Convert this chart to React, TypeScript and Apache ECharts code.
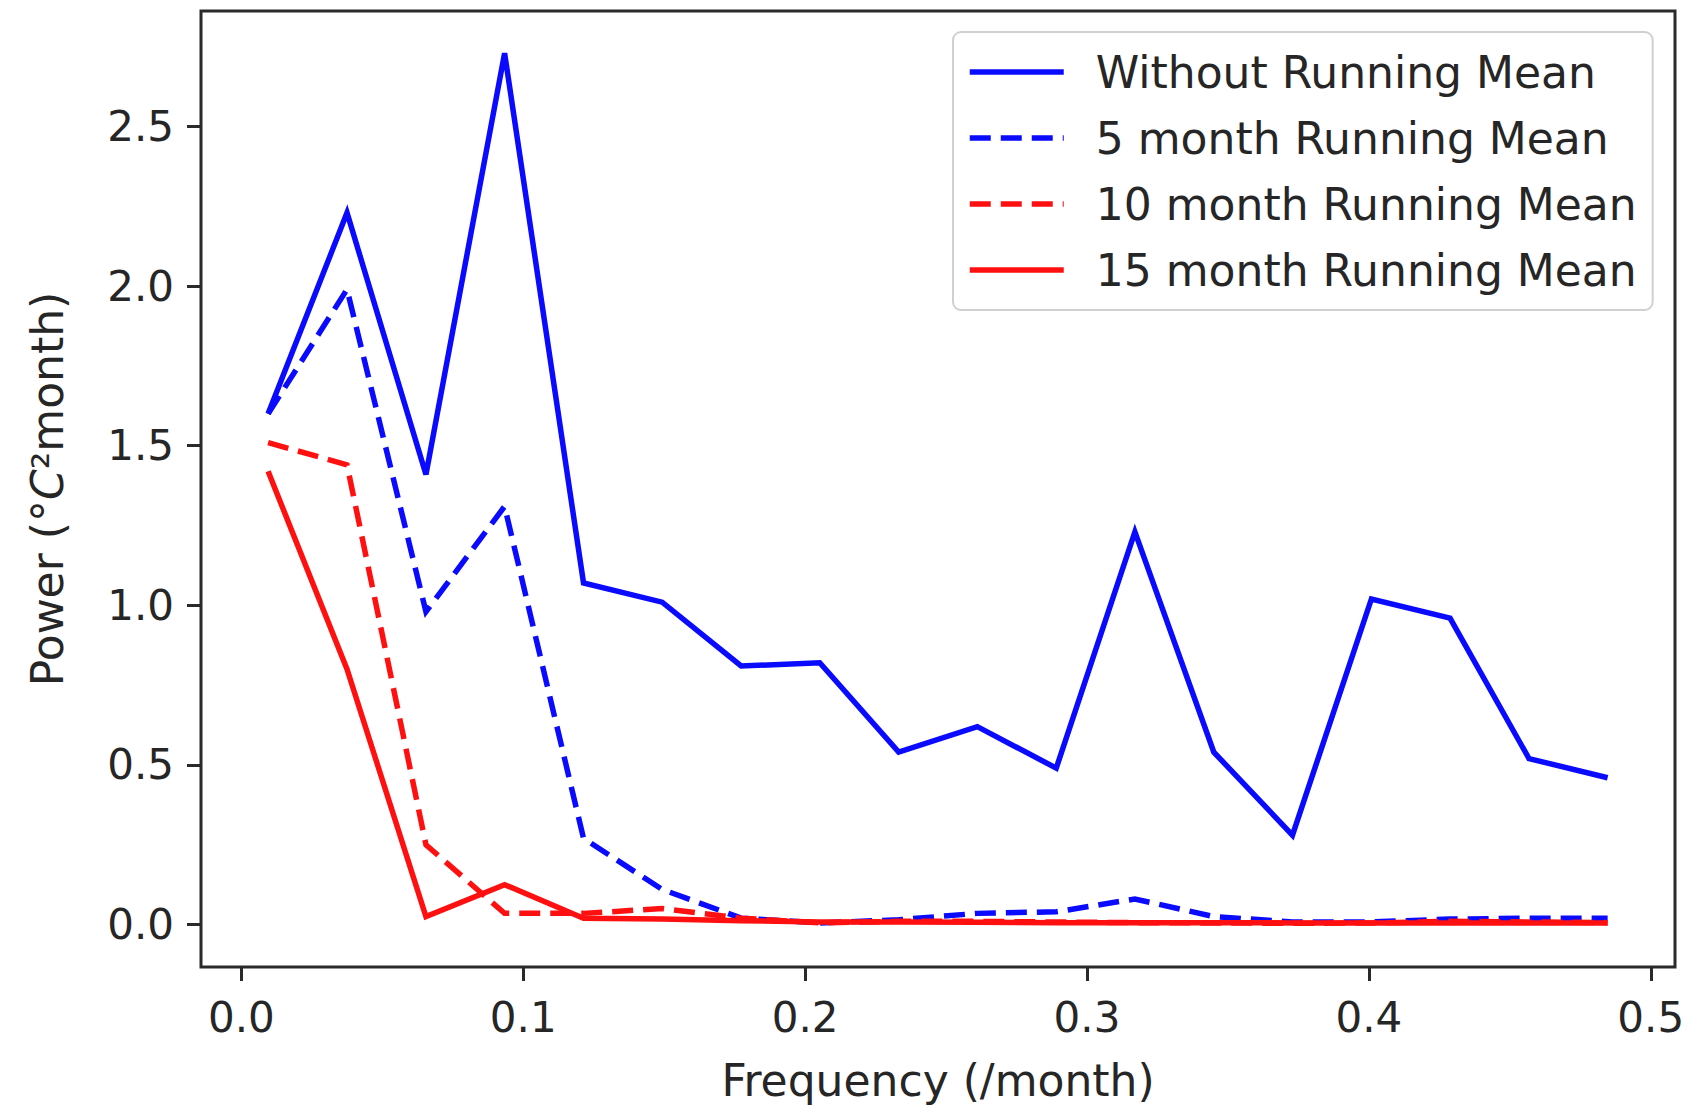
import React, { useEffect, useRef } from "react";
import * as echarts from "echarts";

const freq = [0.0095, 0.0375, 0.0655, 0.0934, 0.1214, 0.1493, 0.1773, 0.2052, 0.2332, 0.2611, 0.2891, 0.317, 0.345, 0.3729, 0.4009, 0.4288, 0.4568, 0.4847];
const withoutMean = [1.6, 2.23, 1.41, 2.73, 1.07, 1.01, 0.81, 0.82, 0.54, 0.62, 0.49, 1.23, 0.54, 0.28, 1.02, 0.96, 0.52, 0.46];
const mean5 = [1.6, 1.99, 0.98, 1.31, 0.27, 0.11, 0.02, 0.005, 0.015, 0.035, 0.04, 0.08, 0.025, 0.008, 0.008, 0.017, 0.02, 0.02];
const mean10 = [1.51, 1.44, 0.25, 0.035, 0.035, 0.05, 0.02, 0.005, 0.01, 0.01, 0.008, 0.006, 0.005, 0.004, 0.005, 0.01, 0.008, 0.006];
const mean15 = [1.42, 0.8, 0.025, 0.125, 0.02, 0.017, 0.012, 0.008, 0.008, 0.007, 0.006, 0.006, 0.006, 0.005, 0.005, 0.005, 0.005, 0.005];
const seriesNames = ["Without Running Mean", "5 month Running Mean", "10 month Running Mean", "15 month Running Mean"];
const xTicks = [0, 0.1, 0.2, 0.3, 0.4, 0.5];
const yTicks = [0, 0.5, 1, 1.5, 2, 2.5];

const FONT = "DejaVu Sans";
const TXT = "#262626";
const BLUE = "#0a0aff";
const RED = "#ff1010";
const LW = 5.5;

export default function App() {
  const ref = useRef<HTMLDivElement>(null);
  useEffect(() => {
    if (!ref.current) return;
    const chart = echarts.init(ref.current, null, { renderer: "svg" });
    const mk = (vals: number[]) => freq.map((f, i) => [f, vals[i]]);
    const series = [
      { name: seriesNames[0], data: mk(withoutMean), color: BLUE, type: "solid" as any },
      { name: seriesNames[1], data: mk(mean5), color: BLUE, type: [21, 10] as any },
      { name: seriesNames[2], data: mk(mean10), color: RED, type: [21, 10] as any },
      { name: seriesNames[3], data: mk(mean15), color: RED, type: "solid" as any },
    ].map((s) => ({
      name: s.name,
      type: "line",
      data: s.data,
      showSymbol: false,
      symbol: "none",
      color: s.color,
      lineStyle: { color: s.color, width: LW, type: s.type, join: "miter" },
    }));
    chart.setOption({
      animation: false,
      backgroundColor: "#ffffff",
      grid: {
        left: 201,
        right: 14,
        top: 11,
        bottom: 140,
        show: true,
        borderColor: "#2a2a2a",
        borderWidth: 3,
        backgroundColor: "transparent",
      },
      xAxis: {
        type: "value",
        min: -0.0143,
        max: 0.5086,
        name: "Frequency (/month)",
        nameLocation: "middle",
        nameGap: 91,
        nameTextStyle: { fontFamily: FONT, fontSize: 44, color: TXT },
        axisLine: { show: false, onZero: false },
        splitLine: { show: false },
        axisTick: { show: true, inside: false, length: 14, lineStyle: { color: "#2a2a2a", width: 3 }, customValues: xTicks },
        axisLabel: { fontFamily: FONT, fontSize: 42, color: TXT, margin: 29, customValues: xTicks, formatter: (v: number) => v.toFixed(1) },
      },
      yAxis: {
        type: "value",
        min: -0.133,
        max: 2.862,
        name: "{a|Power (°}{i|C}{a|²month)}",
        nameLocation: "middle",
        nameGap: 132,
        nameRotate: 90,
        nameTextStyle: {
          fontFamily: FONT,
          fontSize: 44,
          color: TXT,
          rich: {
            a: { fontFamily: FONT, fontSize: 44, color: TXT },
            i: { fontFamily: FONT, fontSize: 44, color: TXT, fontStyle: "italic" },
          },
        },
        axisLine: { show: false, onZero: false },
        splitLine: { show: false },
        axisTick: { show: true, inside: false, length: 14, lineStyle: { color: "#2a2a2a", width: 3 }, customValues: yTicks },
        axisLabel: { fontFamily: FONT, fontSize: 42, color: TXT, margin: 27, customValues: yTicks, formatter: (v: number) => v.toFixed(1) },
      },
      legend: {
        orient: "vertical",
        left: 953,
        top: 32,
        padding: [18, 16, 18, 14],
        itemWidth: 94,
        itemHeight: 44,
        itemGap: 22,
        backgroundColor: "#ffffff",
        borderColor: "#d0d0d0",
        borderWidth: 2,
        borderRadius: 8,
        itemStyle: { opacity: 0 },
        lineStyle: { width: LW },
        textStyle: { fontFamily: FONT, fontSize: 44, color: TXT, lineHeight: 44, padding: [0, 0, 0, 27] },
        data: seriesNames,
      },
      series,
    });
    return () => chart.dispose();
  }, []);
  return <div ref={ref} style={{ position: "fixed", left: 0, top: 0, width: 1689, height: 1107 }} />;
}
